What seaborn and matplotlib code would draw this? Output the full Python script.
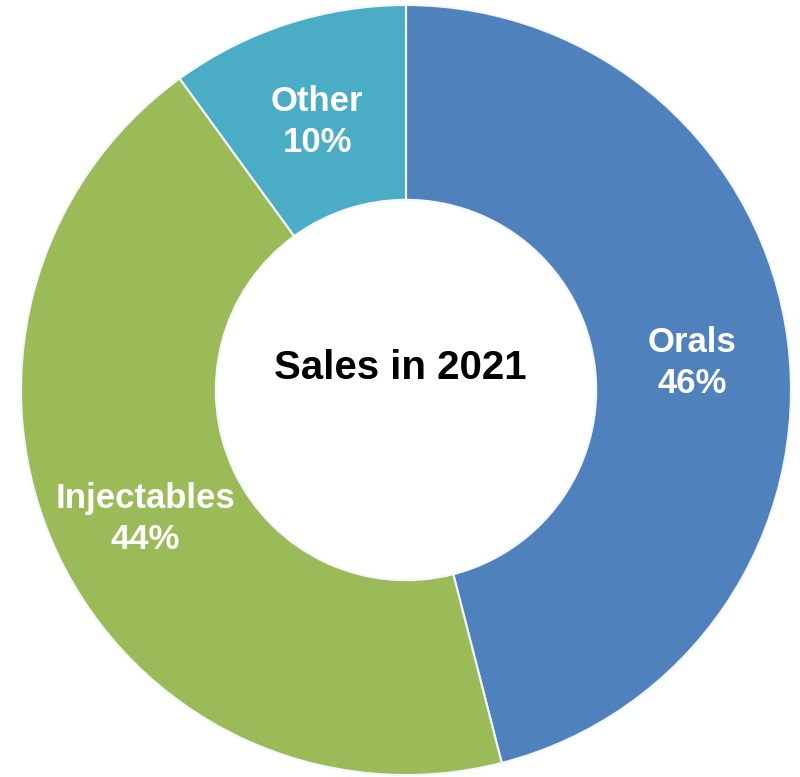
import matplotlib
matplotlib.use("Agg")
import matplotlib.pyplot as plt
import seaborn as sns

categories = ["Orals", "Injectables", "Other"]
shares = [46, 44, 10]
colors = ["#4F81BD", "#9BBB59", "#4BACC6"]
center_title = "Sales in 2021"

sns.set_theme(style="white")
plt.rcParams["font.family"] = ["Liberation Sans", "DejaVu Sans"]

W, H = 800, 777
fig = plt.figure(figsize=(W / 100, H / 100), dpi=100)
ax = fig.add_axes([0, 0, 1, 1])

cx, cy, radius = 406, 387, 385
labels = [f"{c}\n{v}%" for c, v in zip(categories, shares)]
wedges, texts = ax.pie(
    shares,
    labels=labels,
    colors=sns.color_palette(colors),
    startangle=90,
    counterclock=False,
    center=(cx, cy),
    radius=radius,
    labeldistance=0.748,
    frame=True,
    wedgeprops=dict(width=radius * 0.506, edgecolor="#f4f6fa", linewidth=1.5),
    textprops=dict(color="white", fontsize=25, fontweight="bold",
                   ha="center", va="center", linespacing=1.3),
)
# lower the wedge labels slightly (the Orals one a bit more)
label_drop = [9, 6, 6]
for t, d in zip(texts, label_drop):
    x0, y0 = t.get_position()
    t.set_position((x0, y0 - d))

ax.set_xlim(0, W)
ax.set_ylim(0, H)
ax.set_aspect("equal")
ax.axis("off")

ax.text(cx - 6, cy + 22, center_title, ha="center", va="center",
        fontsize=29, fontweight="bold", color="black")

fig.savefig("out.png", dpi=100, facecolor="white")
